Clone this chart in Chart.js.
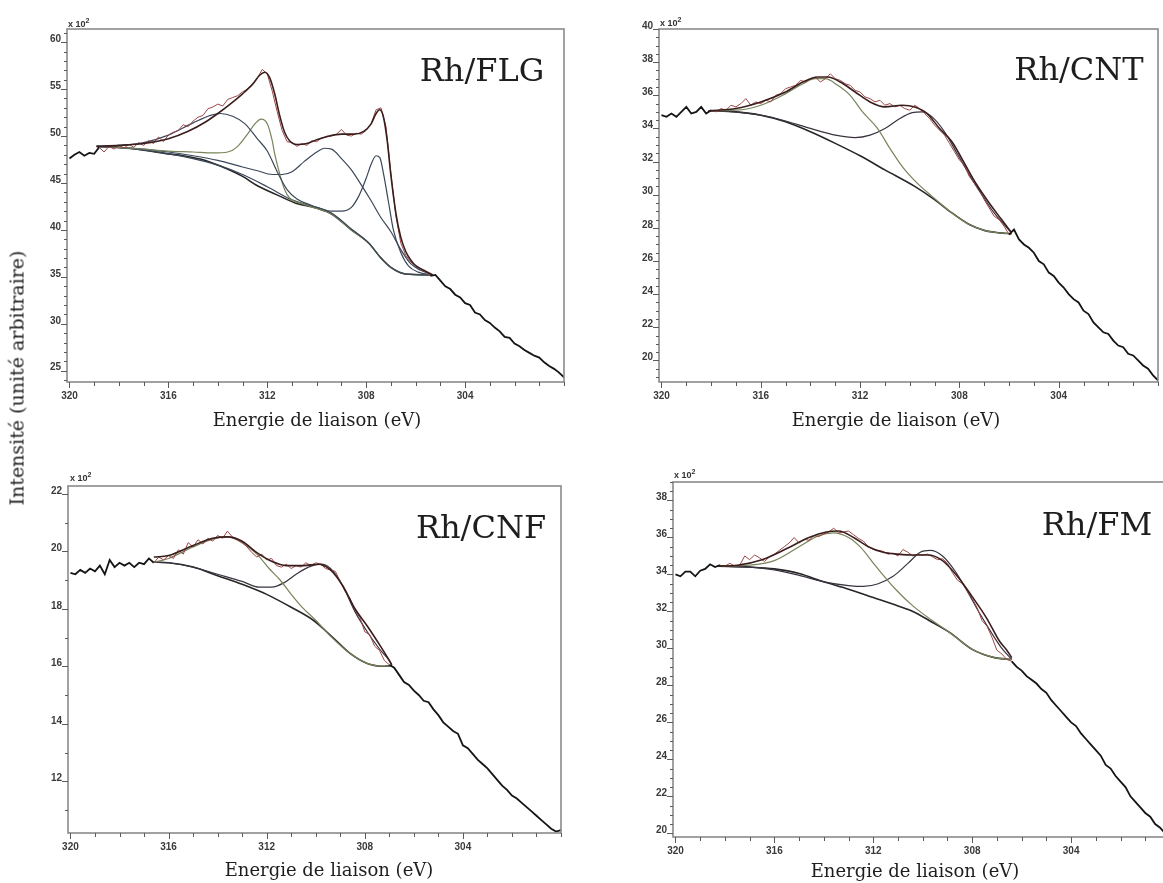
<!DOCTYPE html>
<html>
<head>
<meta charset="utf-8">
<script src="https://cdn.jsdelivr.net/npm/chart.js@4.4.0/dist/chart.umd.min.js"></script>
<style>
  html, body { margin: 0; padding: 0; background: #fff; }
  body { position: relative; width: 1163px; height: 883px; overflow: hidden; }
  canvas { position: absolute; }
  .t { position: absolute; font-family: 'DejaVu Serif', serif; color: #1e1e1e; white-space: nowrap; line-height: 1; }
  .xt { font-size: 18px; transform: translate(-50%, -50%); }
  .yt { font-size: 19px; transform: translate(-50%, -50%) rotate(-90deg); }
  .lab { font-size: 32px; transform: translateX(-50%); }
  .mult { position: absolute; font: bold 9px 'Liberation Sans', Arial, sans-serif; color: #333; white-space: nowrap; line-height: 10px; }
  .mult sup { font-size: 7px; vertical-align: baseline; position: relative; top: -4px; }
</style>
</head>
<body>
<canvas id="cFLG"></canvas>
<canvas id="cCNT"></canvas>
<canvas id="cCNF"></canvas>
<canvas id="cFM"></canvas>

<div class="mult" style="left:68px;top:19px">x 10<sup>2</sup></div>
<div class="mult" style="left:660px;top:18px">x 10<sup>2</sup></div>
<div class="mult" style="left:70px;top:473px">x 10<sup>2</sup></div>
<div class="mult" style="left:674px;top:470px">x 10<sup>2</sup></div>

<div class="t lab" style="left:482px;top:54px">Rh/FLG</div>
<div class="t lab" style="left:1079px;top:53px">Rh/CNT</div>
<div class="t lab" style="left:481px;top:511px">Rh/CNF</div>
<div class="t lab" style="left:1097px;top:508px">Rh/FM</div>

<div class="t xt" style="left:317px;top:420px">Energie de liaison (eV)</div>
<div class="t xt" style="left:896px;top:420px">Energie de liaison (eV)</div>
<div class="t xt" style="left:329px;top:870px">Energie de liaison (eV)</div>
<div class="t xt" style="left:915px;top:871px">Energie de liaison (eV)</div>
<div class="t yt" style="left:17px;top:378px">Intensité (unité arbitraire)</div>

<script>
// binding energy grid of the measured spectra (eV)
const ENERGY = [
  320.0,319.8,319.6,319.4,319.2,319.0,318.8,318.6,318.4,318.2,
  318.0,317.8,317.6,317.4,317.2,317.0,316.8,316.6,316.4,316.2,
  316.0,315.8,315.6,315.4,315.2,315.0,314.8,314.6,314.4,314.2,
  314.0,313.8,313.6,313.4,313.2,313.0,312.8,312.6,312.4,312.2,
  312.0,311.8,311.6,311.4,311.2,311.0,310.8,310.6,310.4,310.2,
  310.0,309.8,309.6,309.4,309.2,309.0,308.8,308.6,308.4,308.2,
  308.0,307.8,307.6,307.4,307.2,307.0,306.8,306.6,306.4,306.2,
  306.0,305.8,305.6,305.4,305.2,305.0,304.8,304.6,304.4,304.2,
  304.0,303.8,303.6,303.4,303.2,303.0,302.8,302.6,302.4,302.2,
  302.0,301.8,301.6,301.4,301.2,301.0,300.8,300.6,300.4,300.2,
  300.0
];
const X_LABELS = [320, 316, 312, 308, 304];

// ---- Rh/FLG  (intensity x 10^2)
const FLG_RAW = [
  47.6,48.0,48.3,47.9,48.2,48.1,48.8,48.3,48.9,48.6,
  49.0,48.7,49.1,48.8,49.3,49.0,49.5,49.2,49.9,49.4,
  50.1,50.4,50.6,51.2,51.0,51.6,52.0,52.2,52.9,53.1,
  53.4,53.2,53.9,54.1,54.3,54.7,55.0,55.5,56.2,57.1,
  56.6,54.8,52.6,50.6,49.4,49.3,48.9,49.2,49.0,49.5,
  49.4,49.8,49.9,50.0,50.2,50.7,50.1,50.0,50.3,50.2,
  50.6,51.3,52.8,53.0,51.0,46.0,41.5,38.6,37.3,36.6,
  36.2,35.9,35.5,35.1,35.2,34.6,34.0,33.7,33.1,32.8,
  32.2,32.0,31.2,31.0,30.4,30.1,29.6,29.2,28.6,28.5,
  27.9,27.6,27.2,26.9,26.6,26.4,25.9,25.5,25.2,24.8,
  24.3
];
const FLG_FIT_RANGE = [305.3, 318.9];
const FLG_ENVELOPE = [[318.9,48.9],[318,49.0],[317,49.2],[316,49.7],[315.2,50.5],[314.5,51.5],[314,52.4],[313.5,53.4],[313,54.5],[312.6,55.5],[312.3,56.5],[312.1,56.8],[311.9,56.2],[311.7,54.5],[311.5,52.2],[311.3,50.4],[311.1,49.5],[310.8,49.1],[310.4,49.2],[310,49.6],[309.5,50.0],[309,50.2],[308.5,50.2],[308.1,50.5],[307.8,51.3],[307.6,52.4],[307.45,52.8],[307.3,52.0],[307.15,49.5],[307.0,45.8],[306.8,41.8],[306.6,39.2],[306.4,37.7],[306.2,36.8],[306.0,36.2],[305.6,35.6],[305.3,35.2]];
const FLG_BACKGROUND = [[318.9,48.9],[318,48.8],[317,48.5],[316,48.1],[315.4,47.9],[314.5,47.4],[313.9,46.8],[313,45.7],[312.4,44.7],[311.5,43.6],[310.9,42.9],[310,42.3],[309.4,41.7],[308.6,40.0],[307.9,38.6],[307.4,37.0],[307,36.0],[306.4,35.3],[305.3,35.2]];
const FLG_PEAK_A = [[318.9,48.9],[318,49.0],[317,49.3],[316,50.1],[315,51.4],[314.3,52.2],[313.9,52.4],[313.4,52.1],[312.9,51.3],[312.4,49.7],[312,48.4],[311.6,46.2],[311.2,44.3],[310.8,43.3],[310.2,42.6],[309.4,41.8],[308.6,40.1],[307.9,38.6],[307.4,37.0],[307,36.0],[306.4,35.3],[305.3,35.2]];
const FLG_PEAK_B = [[318.9,48.9],[318,48.8],[317,48.6],[316,48.4],[315,48.3],[314.2,48.2],[313.6,48.3],[313.2,48.9],[312.8,50.2],[312.5,51.3],[312.25,51.8],[312.0,51.3],[311.8,49.5],[311.7,48.1],[311.5,46.0],[311.3,44.3],[311.1,43.4],[310.6,42.8],[310,42.3],[309.4,41.7],[308.6,40.0],[307.9,38.6],[307.4,37.0],[307,36.0],[306.4,35.3],[305.3,35.2]];
const FLG_PEAK_C = [[318.9,48.9],[317,48.6],[316,48.3],[315,47.9],[314,47.4],[313,46.7],[312.4,46.3],[311.8,45.9],[311.4,45.9],[311,46.2],[310.5,47.3],[310,48.3],[309.7,48.7],[309.4,48.6],[309,47.6],[308.6,46.4],[308.2,44.8],[307.8,43.1],[307.4,41.3],[307,39.8],[306.6,37.9],[306.2,36.4],[305.8,35.7],[305.3,35.2]];
const FLG_PEAK_D = [[318.9,48.9],[317,48.5],[316,48.1],[315,47.6],[314,46.9],[313,45.9],[312,44.6],[311,43.2],[310,42.4],[309.4,42.0],[309,42.0],[308.6,42.4],[308.3,43.6],[308.0,45.5],[307.8,47.0],[307.6,47.9],[307.45,47.7],[307.3,46.0],[307.1,43.0],[306.9,40.0],[306.6,37.6],[306.3,36.2],[305.9,35.5],[305.3,35.2]];
const FLG_Y_LABELS = [25, 30, 35, 40, 45, 50, 55, 60];

// ---- Rh/CNT
const CNT_RAW = [
  34.8,34.7,34.9,34.7,35.0,35.3,34.9,35.0,35.3,34.9,
  35.1,35.0,35.2,35.1,35.4,35.3,35.5,35.8,35.4,35.6,
  35.5,35.7,35.6,36.0,36.1,36.4,36.5,36.6,36.9,36.8,
  37.0,37.1,36.8,37.0,37.3,37.0,36.9,36.7,36.6,36.3,
  36.2,35.9,35.8,35.6,35.7,35.4,35.5,35.3,35.4,35.2,
  35.1,35.4,35.2,34.9,34.6,34.2,33.9,33.6,33.1,32.6,
  32.1,31.8,31.1,30.7,30.3,29.7,29.2,28.7,28.5,28.1,
  27.6,27.9,27.3,27.0,26.8,26.5,26.0,25.8,25.3,25.1,
  24.7,24.4,24.0,23.7,23.5,23.0,22.8,22.3,22.0,21.7,
  21.6,21.2,20.9,20.8,20.4,20.3,20.0,19.7,19.5,19.1,
  18.8
];
const CNT_FIT_RANGE = [305.9, 318.1];
const CNT_ENVELOPE = [[318.1,35.07],[317,35.2],[316,35.6],[315,36.2],[314.3,36.8],[313.7,37.1],[313.3,37.1],[312.8,36.8],[312.2,36.2],[311.6,35.6],[311,35.3],[310.3,35.4],[309.8,35.3],[309.3,34.9],[308.8,34.0],[308.3,33.2],[307.8,31.9],[307.3,30.6],[306.8,29.5],[306.3,28.5],[305.9,27.7]];
const CNT_BACKGROUND = [[318.1,35.07],[317,35.0],[316,34.8],[315,34.4],[314,33.8],[313,33.1],[312,32.35],[311,31.5],[309.8,30.5],[309,29.7],[308.3,28.9],[307.6,28.2],[307,27.85],[306.4,27.7],[305.9,27.65]];
const CNT_PEAK_1 = [[318.1,35.07],[317,35.1],[316,35.4],[315,36.1],[314.3,36.7],[313.8,37.0],[313.4,37.0],[312.9,36.6],[312.4,36.0],[311.9,35.0],[311.3,34.0],[310.8,32.8],[310.3,31.7],[309.7,30.7],[309.1,29.9],[308.3,28.9],[307.6,28.2],[307,27.85],[306.4,27.7],[305.9,27.65]];
const CNT_PEAK_2 = [[318.1,35.07],[317,35.0],[316,34.8],[315,34.45],[314,34.0],[313,33.6],[312.2,33.45],[311.6,33.6],[311,34.0],[310.4,34.6],[309.9,34.95],[309.5,35.0],[309.1,34.7],[308.6,33.8],[308.1,32.5],[307.6,31.2],[307.1,30.0],[306.6,28.9],[306.2,28.2],[305.9,27.7]];
const CNT_Y_LABELS = [20, 22, 24, 26, 28, 30, 32, 34, 36, 38, 40];

// ---- Rh/CNF
const CNF_RAW = [
  19.25,19.2,19.35,19.25,19.4,19.3,19.5,19.2,19.7,19.45,
  19.6,19.5,19.6,19.45,19.6,19.55,19.75,19.6,19.8,19.7,
  19.85,19.75,20.05,19.9,20.3,20.15,20.4,20.25,20.45,20.35,
  20.55,20.45,20.7,20.5,20.4,20.3,20.15,19.95,19.8,19.9,
  19.7,19.75,19.5,19.45,19.55,19.4,19.5,19.45,19.6,19.5,
  19.6,19.55,19.4,19.35,19.3,18.95,18.6,18.35,17.95,17.7,
  17.2,17.1,16.7,16.55,16.2,16.05,15.95,15.7,15.45,15.35,
  15.15,15.0,14.8,14.75,14.5,14.3,14.05,13.9,13.75,13.65,
  13.25,13.15,12.95,12.75,12.6,12.45,12.25,12.05,11.85,11.7,
  11.5,11.4,11.25,11.1,10.95,10.8,10.65,10.5,10.35,10.25,
  10.3
];
const CNF_FIT_RANGE = [306.9, 316.6];
const CNF_ENVELOPE = [[316.6,19.8],[316,19.85],[315,20.2],[314.2,20.45],[313.6,20.5],[313.0,20.35],[312.4,19.95],[311.8,19.65],[311.2,19.5],[310.5,19.5],[309.9,19.55],[309.4,19.35],[308.9,18.8],[308.4,18.0],[307.9,17.4],[307.4,16.75],[307.0,16.2],[306.9,16.05]];
const CNF_BACKGROUND = [[316.6,19.62],[316,19.6],[315,19.45],[314,19.15],[313,18.85],[312,18.5],[311,18.05],[310.1,17.6],[309.3,17.0],[308.6,16.45],[307.9,16.1],[307.2,16.0],[306.9,16.02]];
const CNF_PEAK_1 = [[316.6,19.62],[316,19.75],[315,20.15],[314.2,20.42],[313.6,20.5],[313.0,20.3],[312.4,19.9],[311.9,19.4],[311.45,19.0],[311.0,18.5],[310.55,18.05],[310.0,17.6],[309.4,17.05],[308.6,16.45],[307.9,16.1],[307.2,16.0],[306.9,16.02]];
const CNF_PEAK_2 = [[316.6,19.62],[316,19.6],[315,19.45],[314,19.2],[313,18.95],[312.3,18.75],[311.8,18.75],[311.3,18.9],[310.8,19.2],[310.3,19.45],[309.8,19.55],[309.4,19.4],[308.9,18.8],[308.4,17.9],[307.9,17.2],[307.4,16.6],[307.0,16.2],[306.9,16.05]];
const CNF_Y_LABELS = [12, 14, 16, 18, 20, 22];

// ---- Rh/FM
const FM_RAW = [
  34.0,33.9,34.15,34.15,33.9,34.2,34.3,34.55,34.4,34.5,
  34.45,34.6,34.45,34.5,35.0,34.8,35.05,34.9,34.7,34.95,
  35.1,35.3,35.5,35.7,36.0,35.7,35.9,35.85,36.1,36.05,
  36.2,36.3,36.5,36.25,36.3,36.35,36.15,35.95,35.8,35.5,
  35.35,35.3,35.25,35.1,35.15,35.0,35.35,35.2,35.0,35.1,
  35.05,35.1,34.95,34.8,34.85,34.6,34.1,33.7,33.5,33.1,
  32.7,32.2,31.5,31.2,30.6,29.9,29.7,29.4,29.3,29.0,
  28.8,28.5,28.3,28.1,27.8,27.6,27.2,26.9,26.6,26.3,
  26.0,25.8,25.4,25.1,24.8,24.5,24.2,23.7,23.5,23.1,
  22.8,22.5,22.0,21.7,21.4,21.1,20.9,20.5,20.3,20.0,
  19.8
];
const FM_FIT_RANGE = [306.4, 318.3];
const FM_ENVELOPE = [[318.3,34.45],[317.5,34.5],[316.5,34.8],[315.5,35.4],[314.6,36.0],[313.9,36.3],[313.4,36.35],[312.8,36.0],[312.2,35.5],[311.6,35.2],[311,35.1],[310.4,35.05],[309.8,35.05],[309.2,34.75],[308.6,33.9],[308.0,32.8],[307.4,31.6],[306.9,30.4],[306.6,29.9],[306.4,29.5]];
const FM_BACKGROUND = [[318.3,34.45],[317,34.4],[316,34.3],[315,34.05],[314,33.6],[313,33.2],[312,32.75],[311,32.3],[310.4,32.0],[309.6,31.4],[308.9,30.85],[308.0,29.95],[307.1,29.5],[306.4,29.4]];
const FM_PEAK_1 = [[318.3,34.45],[317,34.5],[316,34.75],[315,35.5],[314.2,36.1],[313.6,36.25],[313.0,36.0],[312.5,35.45],[311.9,34.45],[311.1,33.2],[310.4,32.3],[309.5,31.4],[308.9,30.85],[308.0,29.95],[307.1,29.5],[306.4,29.4]];
const FM_PEAK_2 = [[318.3,34.45],[317,34.4],[316,34.25],[315,33.95],[314,33.6],[313,33.4],[312.4,33.35],[311.8,33.5],[311.2,33.9],[310.6,34.6],[310.1,35.2],[309.7,35.3],[309.2,35.0],[308.7,34.2],[308.2,33.1],[307.7,31.9],[307.2,30.8],[306.8,30.0],[306.4,29.4]];
const FM_Y_LABELS = [20, 22, 24, 26, 28, 30, 32, 34, 36, 38];

// colours
const RAW_RED = '#9e4646';
const RAW_BLACK = '#141414';
const ENV_COLOR = '#3a1e1e';
const BG_COLOR = '#262626';
const SLATE = '#3b4759';
const OLIVE = '#77845a';
const DARK_PEAK = '#3b3340';
const TICK_FONT = { family: "'Liberation Sans', Arial, sans-serif", size: 10, weight: 'bold' };
const TICK_COLOR = '#3a3a3a';

const toXY = arr => arr.map(([x, y]) => ({ x, y }));

function frameTicks(xMajor, yMajor) {
  return {
    id: 'frameTicks',
    afterDatasetsDraw(chart) {
      const { ctx, chartArea: a, scales: { x, y } } = chart;
      ctx.save();
      ctx.strokeStyle = '#8a8a8a';
      ctx.lineWidth = 1.6;
      ctx.strokeRect(a.left, a.top, a.right - a.left, a.bottom - a.top);
      ctx.strokeStyle = '#5a5a5a';
      ctx.lineWidth = 1;
      ctx.beginPath();
      x.ticks.forEach(t => {
        const px = Math.round(x.getPixelForValue(t.value)) + 0.5;
        const len = xMajor.includes(t.value) ? 6 : 4;
        ctx.moveTo(px, a.bottom);
        ctx.lineTo(px, a.bottom + len);
      });
      y.ticks.forEach(t => {
        const py = Math.round(y.getPixelForValue(t.value)) + 0.5;
        const len = yMajor.includes(t.value) ? 6 : 3;
        ctx.moveTo(a.left, py);
        ctx.lineTo(a.left - len, py);
      });
      ctx.stroke();
      ctx.restore();
    }
  };
}

function smooth(data, color, width) {
  return { data: toXY(data), borderColor: color, borderWidth: width, pointRadius: 0,
           cubicInterpolationMode: 'monotone', fill: false };
}

function makePanel(id, box, p) {
  const yW = 50, xH = 30, padTop = 20, padRight = 10;
  const canvas = document.getElementById(id);
  const w = box.right - box.left + yW + padRight;
  const h = box.bottom - box.top + padTop + xH;
  canvas.width = w; canvas.height = h;
  canvas.style.width = w + 'px'; canvas.style.height = h + 'px';
  canvas.style.left = (box.left - yW) + 'px';
  canvas.style.top = (box.top - padTop) + 'px';

  const [lo, hi] = p.fitRange;
  const inside = c => Math.min(c.p0.parsed.x, c.p1.parsed.x) >= lo - 1e-6 &&
                      Math.max(c.p0.parsed.x, c.p1.parsed.x) <= hi + 1e-6;

  const datasets = [
    smooth(p.envelope, ENV_COLOR, 1.6),
    {
      data: ENERGY.map((e, i) => ({ x: e, y: p.raw[i] })),
      borderColor: RAW_BLACK, borderWidth: 1.8, pointRadius: 0, tension: 0,
      segment: {
        borderColor: c => inside(c) ? RAW_RED : RAW_BLACK,
        borderWidth: c => inside(c) ? 1 : 1.8
      }
    },
    ...p.peaks.map(([d, col]) => smooth(d, col, 1.2)),
    smooth(p.background, BG_COLOR, 1.6)
  ];

  return new Chart(canvas, {
    type: 'line',
    data: { datasets },
    options: {
      responsive: false,
      animation: false,
      events: [],
      layout: { padding: { top: padTop, right: padRight, left: 0, bottom: 0 } },
      plugins: { legend: { display: false }, tooltip: { enabled: false } },
      scales: {
        x: {
          type: 'linear', reverse: true, min: 300, max: 320.1,
          afterFit: s => { s.height = xH; },
          grid: { display: false, drawTicks: false },
          border: { display: false },
          ticks: {
            stepSize: 1, includeBounds: false, autoSkip: false, maxRotation: 0,
            padding: 8, color: TICK_COLOR, font: TICK_FONT,
            callback: v => X_LABELS.includes(v) ? String(v) : ''
          }
        },
        y: {
          type: 'linear', min: p.yMin, max: p.yMax,
          afterFit: s => { s.width = yW; },
          grid: { display: false, drawTicks: false },
          border: { display: false },
          ticks: {
            stepSize: p.yStep, includeBounds: false, autoSkip: false,
            padding: 6, labelOffset: -3, color: TICK_COLOR, font: TICK_FONT,
            callback: v => p.yLabels.includes(v) ? String(v) : ''
          }
        }
      }
    },
    plugins: [frameTicks(X_LABELS, p.yLabels)]
  });
}

makePanel('cFLG', { left: 67, top: 29, right: 564, bottom: 382 }, {
  raw: FLG_RAW, fitRange: FLG_FIT_RANGE, envelope: FLG_ENVELOPE, background: FLG_BACKGROUND,
  peaks: [[FLG_PEAK_A, SLATE], [FLG_PEAK_B, OLIVE], [FLG_PEAK_C, SLATE], [FLG_PEAK_D, SLATE]],
  yMin: 23.8, yMax: 61.4, yStep: 1, yLabels: FLG_Y_LABELS
});
makePanel('cCNT', { left: 659, top: 29, right: 1158, bottom: 382 }, {
  raw: CNT_RAW, fitRange: CNT_FIT_RANGE, envelope: CNT_ENVELOPE, background: CNT_BACKGROUND,
  peaks: [[CNT_PEAK_1, OLIVE], [CNT_PEAK_2, DARK_PEAK]],
  yMin: 18.7, yMax: 40, yStep: 0.5, yLabels: CNT_Y_LABELS
});
makePanel('cCNF', { left: 68, top: 486, right: 561, bottom: 833 }, {
  raw: CNF_RAW, fitRange: CNF_FIT_RANGE, envelope: CNF_ENVELOPE, background: CNF_BACKGROUND,
  peaks: [[CNF_PEAK_1, OLIVE], [CNF_PEAK_2, DARK_PEAK]],
  yMin: 10.2, yMax: 22.27, yStep: 1, yLabels: CNF_Y_LABELS
});
makePanel('cFM', { left: 673, top: 482, right: 1170, bottom: 837 }, {
  raw: FM_RAW, fitRange: FM_FIT_RANGE, envelope: FM_ENVELOPE, background: FM_BACKGROUND,
  peaks: [[FM_PEAK_1, OLIVE], [FM_PEAK_2, DARK_PEAK]],
  yMin: 19.8, yMax: 39, yStep: 0.5, yLabels: FM_Y_LABELS
});
</script>
</body>
</html>
